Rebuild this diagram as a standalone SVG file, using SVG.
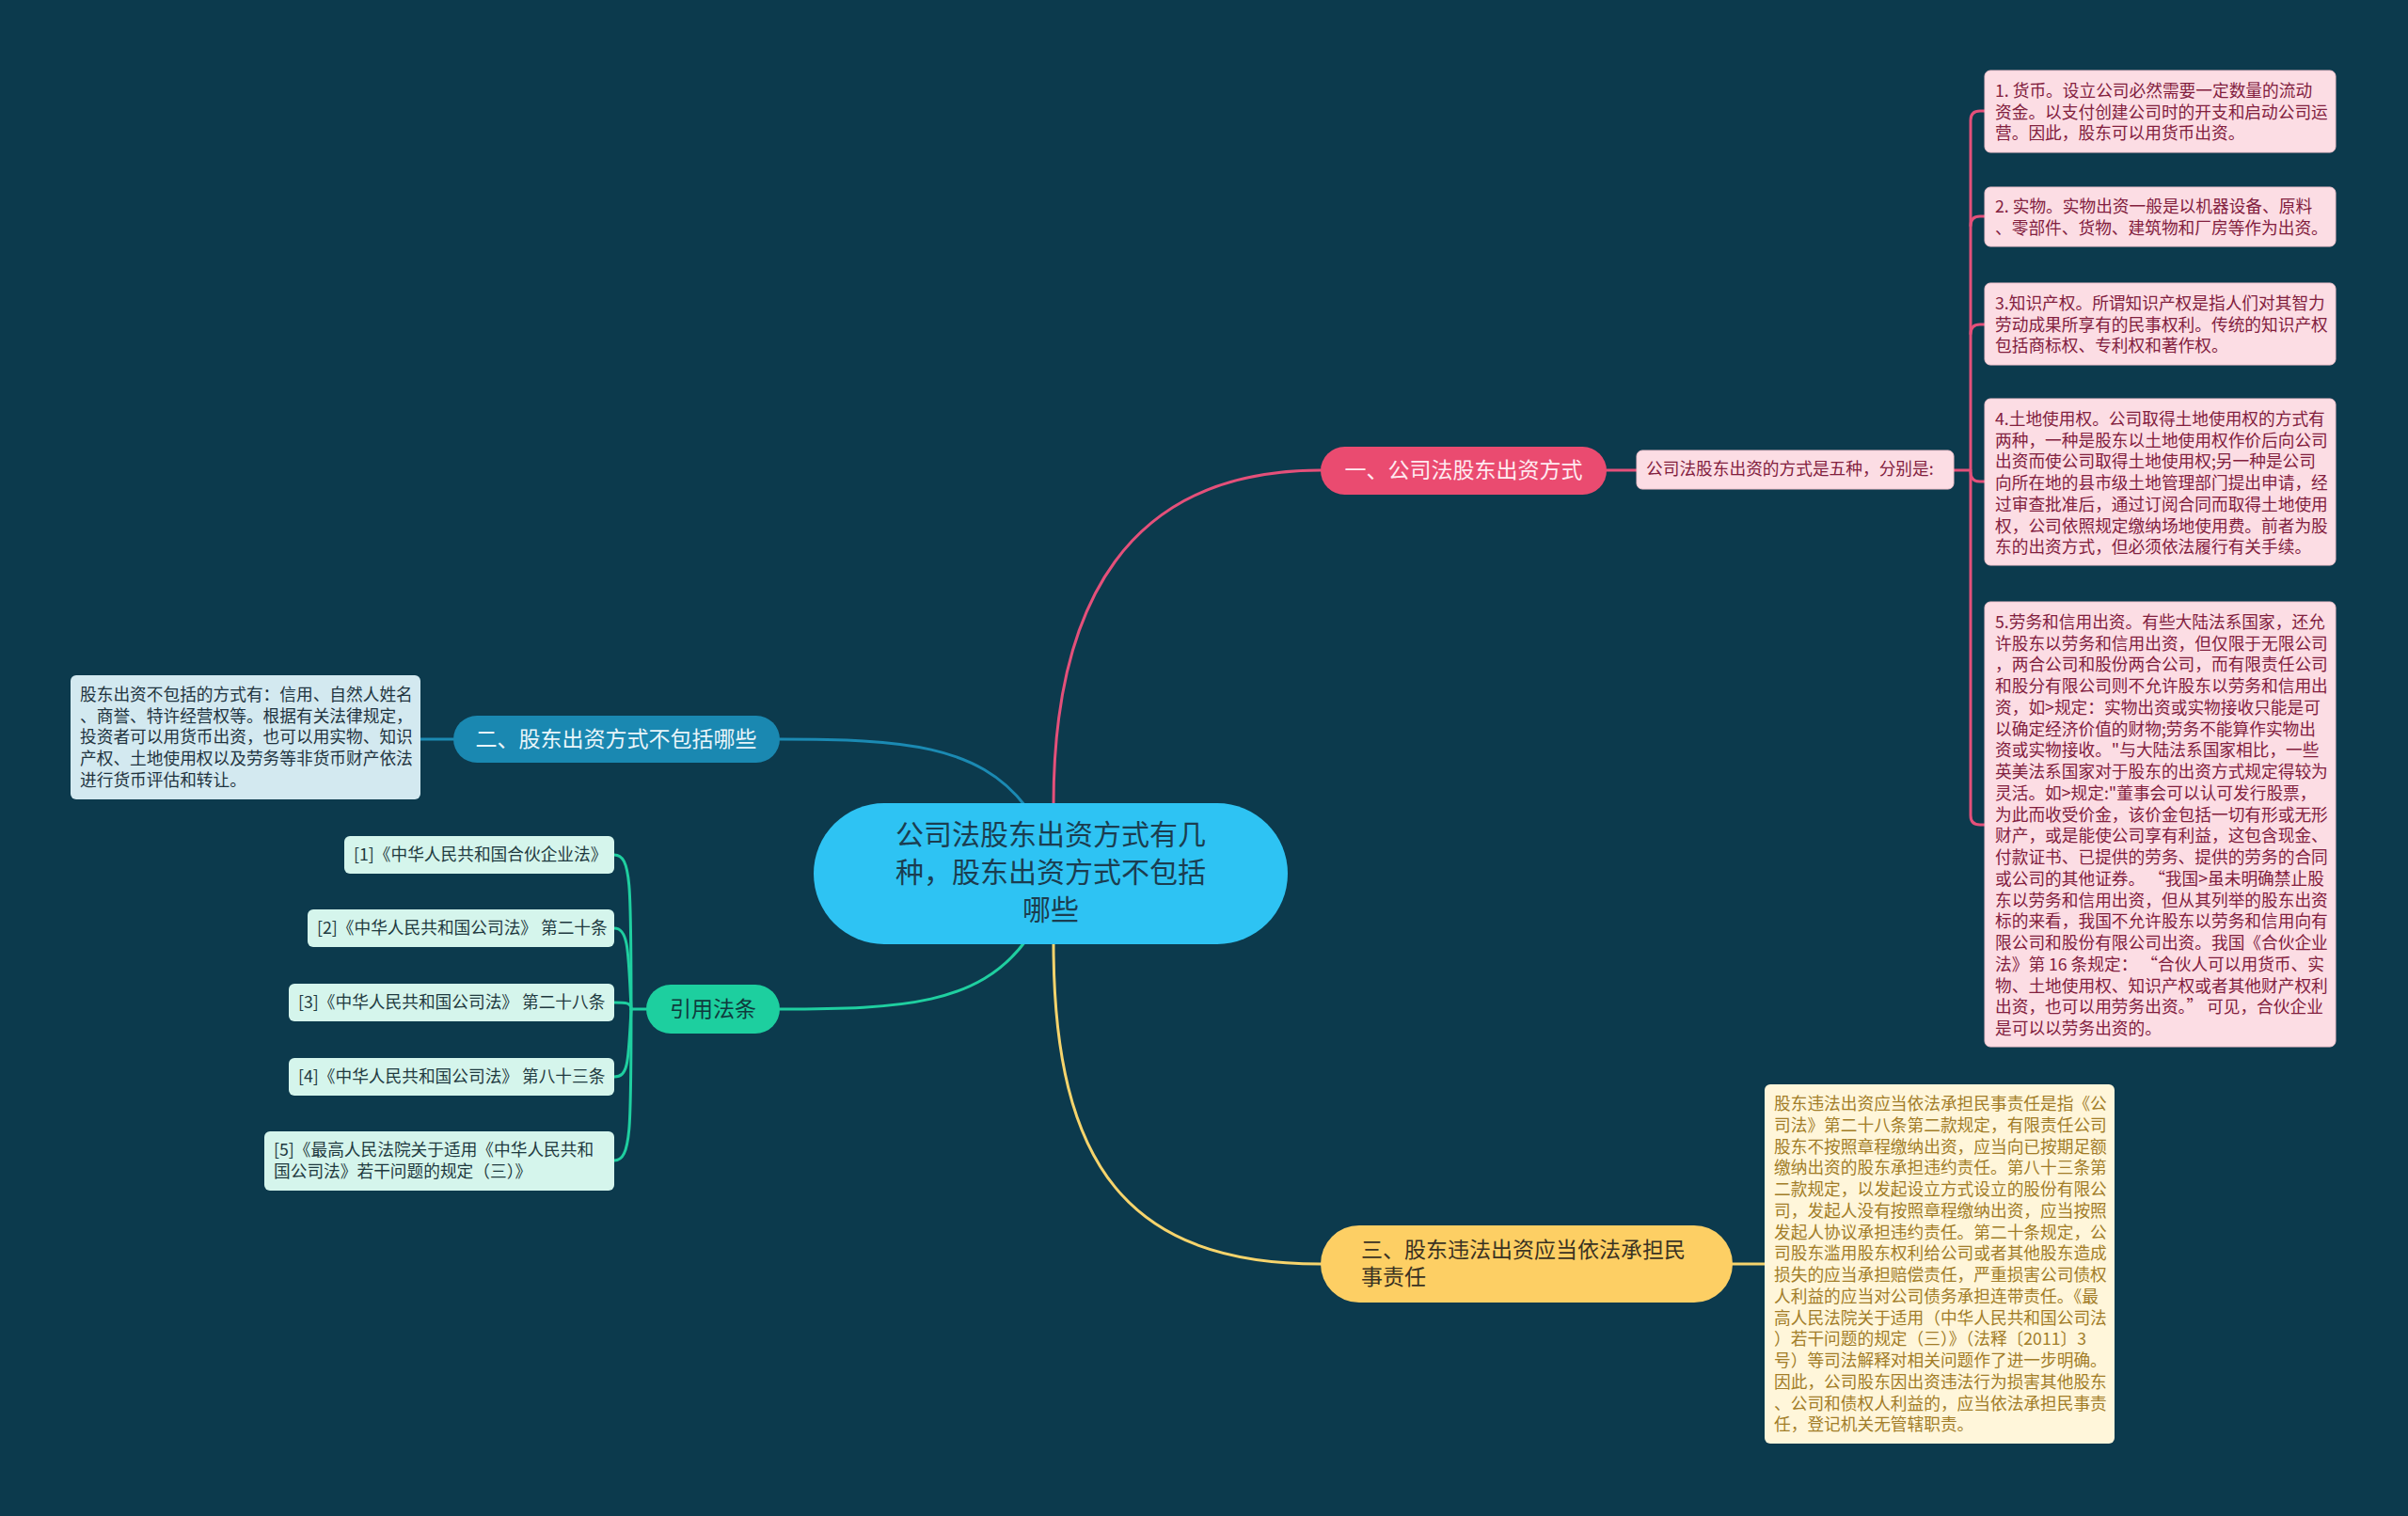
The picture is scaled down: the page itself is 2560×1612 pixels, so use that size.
<svg xmlns="http://www.w3.org/2000/svg" width="2560" height="1612" viewBox="0 0 2560 1612">
<style>
text{font-family:"Noto Sans CJK SC","Noto Sans",sans-serif;}
.c{fill:none;stroke-width:3;stroke-linecap:round;}
.pk{stroke:#E4507A;}
.bl{stroke:#1B8AB3;}
.gr{stroke:#1FCFA0;}
.ye{stroke:#F6D46C;}
.t17{font-size:17.7px;}
.t23{font-size:23px;}
.pinkbox{fill:#FCDDE4;stroke:#F3C4CF;stroke-width:1;}
.pinktxt{fill:#82203E;}
.bluebox{fill:#D3E9F0;}
.bluetxt{fill:#1F3440;}
.mintbox{fill:#D5F5EC;}
.minttxt{fill:#1F3A40;}
.creambox{fill:#FFF6DA;}
.creamtxt{fill:#A27D28;}
</style>
<rect width="2560" height="1612" fill="#0C3A4D"/>
<g id="connectors">
<path class="c pk" d="M1120 856 C1120 640 1200 500 1404 500"/>
<path class="c bl" d="M1090 857 C1040 792 960 786 829 786"/>
<path class="c gr" d="M1090 1001 C1040 1068 960 1073 829 1073"/>
<path class="c ye" d="M1120 1003 C1120 1240 1200 1344 1404 1344"/>
<path class="c pk" d="M1708 500 L1740 500"/>
<path class="c pk" d="M2077 500 L2095 500"/>
<path class="c pk" d="M2110 118 L2105 118 Q2095 118 2095 128 L2095 867 Q2095 877 2105 877 L2110 877"/>
<path class="c pk" d="M2095 240 Q2095 230 2105 230 L2110 230"/>
<path class="c pk" d="M2095 355 Q2095 345 2105 345 L2110 345"/>
<path class="c pk" d="M2095 502 Q2095 512 2105 512 L2110 512"/>
<path class="c bl" d="M482 786 L447 786"/>
<path class="c gr" d="M687 1073 L671 1073"/>
<path class="c gr" d="M671 1073 C671 940 671 909 653 909"/>
<path class="c gr" d="M671 1073 C668 1010 668 987 653 987"/>
<path class="c gr" d="M671 1073 C671 1066 665 1066 653 1066"/>
<path class="c gr" d="M671 1073 C668 1130 668 1145 653 1145"/>
<path class="c gr" d="M671 1073 C671 1200 671 1234 653 1234"/>
<path class="c ye" d="M1842 1344 L1876 1344"/>
</g>
<g id="center">
<rect x="865" y="854" width="504" height="150" rx="75" fill="#2EC3F3"/>
<text x="1117" y="898" font-size="30" fill="#1B3D50" text-anchor="middle">公司法股东出资方式有几</text>
<text x="1117" y="938" font-size="30" fill="#1B3D50" text-anchor="middle">种，股东出资方式不包括</text>
<text x="1117" y="978" font-size="30" fill="#1B3D50" text-anchor="middle">哪些</text>
</g>
<g id="node1">
<rect x="1404" y="475" width="304" height="51" rx="25.5" fill="#EA4B70"/>
<text class="t23" x="1556" y="508" fill="#FFEAF0" text-anchor="middle">一、公司法股东出资方式</text>
</g>
<g id="node1-summary">
<rect class="pinkbox" x="1740" y="479" width="337" height="41" rx="6"/>
<text class="t17 pinktxt" x="1750" y="505">公司法股东出资的方式是五种，分别是:</text>
</g>
<g id="item1">
<rect class="pinkbox" x="2110" y="75" width="373" height="87" rx="6"/>
<text class="t17 pinktxt"><tspan x="2121" y="103">1. 货币。设立公司必然需要一定数量的流动</tspan><tspan x="2121" y="126">资金。以支付创建公司时的开支和启动公司运</tspan><tspan x="2121" y="148">营。因此，股东可以用货币出资。</tspan></text>
</g>
<g id="item2">
<rect class="pinkbox" x="2110" y="199" width="373" height="63" rx="6"/>
<text class="t17 pinktxt"><tspan x="2121" y="226">2. 实物。实物出资一般是以机器设备、原料</tspan><tspan x="2121" y="249">、零部件、货物、建筑物和厂房等作为出资。</tspan></text>
</g>
<g id="item3">
<rect class="pinkbox" x="2110" y="301" width="373" height="87" rx="6"/>
<text class="t17 pinktxt"><tspan x="2121" y="329">3.知识产权。所谓知识产权是指人们对其智力</tspan><tspan x="2121" y="352">劳动成果所享有的民事权利。传统的知识产权</tspan><tspan x="2121" y="374">包括商标权、专利权和著作权。</tspan></text>
</g>
<g id="item4">
<rect class="pinkbox" x="2110" y="424" width="373" height="177" rx="6"/>
<text class="t17 pinktxt"><tspan x="2121" y="452">4.土地使用权。公司取得土地使用权的方式有</tspan><tspan x="2121" y="475">两种，一种是股东以土地使用权作价后向公司</tspan><tspan x="2121" y="497">出资而使公司取得土地使用权;另一种是公司</tspan><tspan x="2121" y="520">向所在地的县市级土地管理部门提出申请，经</tspan><tspan x="2121" y="543">过审查批准后，通过订阅合同而取得土地使用</tspan><tspan x="2121" y="566">权，公司依照规定缴纳场地使用费。前者为股</tspan><tspan x="2121" y="588">东的出资方式，但必须依法履行有关手续。</tspan></text>
</g>
<g id="item5">
<rect class="pinkbox" x="2110" y="640" width="373" height="473" rx="6"/>
<text class="t17 pinktxt"><tspan x="2121" y="668">5.劳务和信用出资。有些大陆法系国家，还允</tspan><tspan x="2121" y="691">许股东以劳务和信用出资，但仅限于无限公司</tspan><tspan x="2121" y="713">，两合公司和股份两合公司，而有限责任公司</tspan><tspan x="2121" y="736">和股分有限公司则不允许股东以劳务和信用出</tspan><tspan x="2121" y="759">资，如&gt;规定：实物出资或实物接收只能是可</tspan><tspan x="2121" y="782">以确定经济价值的财物;劳务不能算作实物出</tspan><tspan x="2121" y="804">资或实物接收。"与大陆法系国家相比，一些</tspan><tspan x="2121" y="827">英美法系国家对于股东的出资方式规定得较为</tspan><tspan x="2121" y="850">灵活。如&gt;规定:"董事会可以认可发行股票，</tspan><tspan x="2121" y="873">为此而收受价金，该价金包括一切有形或无形</tspan><tspan x="2121" y="895">财产，或是能使公司享有利益，这包含现金、</tspan><tspan x="2121" y="918">付款证书、已提供的劳务、提供的劳务的合同</tspan><tspan x="2121" y="941">或公司的其他证券。 “我国&gt;虽未明确禁止股</tspan><tspan x="2121" y="964">东以劳务和信用出资，但从其列举的股东出资</tspan><tspan x="2121" y="986">标的来看，我国不允许股东以劳务和信用向有</tspan><tspan x="2121" y="1009">限公司和股份有限公司出资。我国《合伙企业</tspan><tspan x="2121" y="1032">法》第 16 条规定： “合伙人可以用货币、实</tspan><tspan x="2121" y="1055">物、土地使用权、知识产权或者其他财产权利</tspan><tspan x="2121" y="1077">出资，也可以用劳务出资。” 可见，合伙企业</tspan><tspan x="2121" y="1100">是可以以劳务出资的。</tspan></text>
</g>
<g id="node2">
<rect x="482" y="761" width="347" height="50" rx="25" fill="#1A88B1"/>
<text class="t23" x="655" y="794" fill="#E8F5FA" text-anchor="middle">二、股东出资方式不包括哪些</text>
</g>
<g id="node2-detail">
<rect class="bluebox" x="75" y="718" width="372" height="132" rx="6"/>
<text class="t17 bluetxt"><tspan x="85" y="745">股东出资不包括的方式有：信用、自然人姓名</tspan><tspan x="85" y="768">、商誉、特许经营权等。根据有关法律规定，</tspan><tspan x="85" y="790">投资者可以用货币出资，也可以用实物、知识</tspan><tspan x="85" y="813">产权、土地使用权以及劳务等非货币财产依法</tspan><tspan x="85" y="836">进行货币评估和转让。</tspan></text>
</g>
<g id="node-law">
<rect x="687" y="1047" width="142" height="52" rx="26" fill="#1DCF9F"/>
<text class="t23" x="758" y="1081" fill="#0F3A3C" text-anchor="middle">引用法条</text>
</g>
<g id="law1">
<rect class="mintbox" x="366" y="889" width="287" height="40" rx="6"/>
<text class="t17 minttxt" x="376" y="915">[1]《中华人民共和国合伙企业法》</text>
</g>
<g id="law2">
<rect class="mintbox" x="327" y="967" width="326" height="40" rx="6"/>
<text class="t17 minttxt" x="337" y="993">[2]《中华人民共和国公司法》 第二十条</text>
</g>
<g id="law3">
<rect class="mintbox" x="307" y="1046" width="346" height="40" rx="6"/>
<text class="t17 minttxt" x="317" y="1072">[3]《中华人民共和国公司法》 第二十八条</text>
</g>
<g id="law4">
<rect class="mintbox" x="307" y="1125" width="346" height="40" rx="6"/>
<text class="t17 minttxt" x="317" y="1151">[4]《中华人民共和国公司法》 第八十三条</text>
</g>
<g id="law5">
<rect class="mintbox" x="281" y="1203" width="372" height="63" rx="6"/>
<text class="t17 minttxt"><tspan x="291" y="1229">[5]《最高人民法院关于适用《中华人民共和</tspan><tspan x="291" y="1252">国公司法》若干问题的规定（三）》</tspan></text>
</g>
<g id="node3">
<rect x="1404" y="1303" width="438" height="82" rx="41" fill="#FDCF64"/>
<text class="t23" fill="#3A3222"><tspan x="1447" y="1337">三、股东违法出资应当依法承担民</tspan><tspan x="1447" y="1366">事责任</tspan></text>
</g>
<g id="node3-detail">
<rect class="creambox" x="1876" y="1153" width="372" height="382" rx="6"/>
<text class="t17 creamtxt"><tspan x="1886" y="1180">股东违法出资应当依法承担民事责任是指《公</tspan><tspan x="1886" y="1203">司法》第二十八条第二款规定，有限责任公司</tspan><tspan x="1886" y="1226">股东不按照章程缴纳出资，应当向已按期足额</tspan><tspan x="1886" y="1248">缴纳出资的股东承担违约责任。第八十三条第</tspan><tspan x="1886" y="1271">二款规定，以发起设立方式设立的股份有限公</tspan><tspan x="1886" y="1294">司，发起人没有按照章程缴纳出资，应当按照</tspan><tspan x="1886" y="1317">发起人协议承担违约责任。第二十条规定，公</tspan><tspan x="1886" y="1339">司股东滥用股东权利给公司或者其他股东造成</tspan><tspan x="1886" y="1362">损失的应当承担赔偿责任，严重损害公司债权</tspan><tspan x="1886" y="1385">人利益的应当对公司债务承担连带责任。《最</tspan><tspan x="1886" y="1408">高人民法院关于适用（中华人民共和国公司法</tspan><tspan x="1886" y="1430">）若干问题的规定（三）》（法释〔2011〕3</tspan><tspan x="1886" y="1453">号）等司法解释对相关问题作了进一步明确。</tspan><tspan x="1886" y="1476">因此，公司股东因出资违法行为损害其他股东</tspan><tspan x="1886" y="1499">、公司和债权人利益的，应当依法承担民事责</tspan><tspan x="1886" y="1521">任，登记机关无管辖职责。</tspan></text>
</g>
</svg>
